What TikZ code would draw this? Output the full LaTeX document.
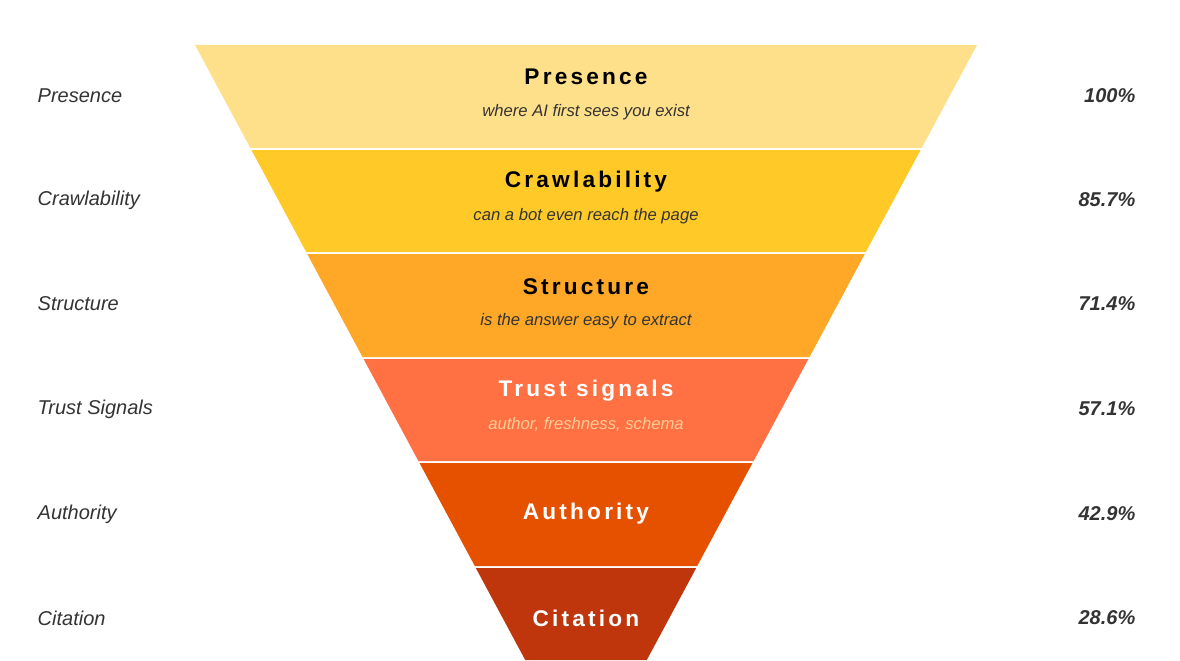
\documentclass[tikz,border=0pt]{standalone}
\usepackage{fontspec}
\setmainfont{Liberation Sans}
\newfontfamily\titlefont{Liberation Sans}[LetterSpace=14]
\definecolor{bandA}{HTML}{FFE08A}
\definecolor{bandB}{HTML}{FFCA28}
\definecolor{bandC}{HTML}{FFA726}
\definecolor{bandD}{HTML}{FF7043}
\definecolor{bandE}{HTML}{E65100}
\definecolor{bandF}{HTML}{BF360C}
\definecolor{labelgray}{HTML}{333333}
\begin{document}
\begin{tikzpicture}[x=0.75pt, y=-0.75pt,
    band/.style={draw=none},
    stage/.style={font=\titlefont\fontsize{17}{20}\selectfont\bfseries},
    hint/.style={font=\fontsize{12.5}{15}\selectfont\itshape, text=labelgray},
    side/.style={font=\fontsize{15}{18}\selectfont\itshape, text=labelgray, anchor=west},
    pct/.style={font=\fontsize{15}{18}\selectfont\bfseries\itshape, text=labelgray, anchor=east},
  ]
    \useasboundingbox (0,0) rectangle (1180,660);

    % Funnel bands
    \fill[band, bandA] (195,45) -- (977,45) -- (921.7,148) -- (250.3,148) -- cycle;
    \fill[band, bandB] (251.4,150) -- (920.6,150) -- (865.8,252) -- (306.2,252) -- cycle;
    \fill[band, bandC] (307.2,254) -- (864.8,254) -- (809.5,357) -- (362.5,357) -- cycle;
    \fill[band, bandD] (363.6,359) -- (808.4,359) -- (753.6,461) -- (418.4,461) -- cycle;
    \fill[band, bandE] (419.5,463) -- (752.5,463) -- (697.2,566) -- (474.8,566) -- cycle;
    \fill[band, bandF] (475.8,568) -- (696.2,568) -- (646.8,660) -- (525.2,660) -- cycle;

    % Stage titles
    \node[stage] (presence) at (586,77) {Presence};
    \node[hint] (presenceHint) at (586,112) {where AI first sees you exist};
    \node[stage] (crawl) at (586,182) {Crawlability};
    \node[hint] (crawlHint) at (586,216) {can a bot even reach the page};
    \node[stage] (structure) at (586,287) {Structure};
    \node[hint] (structureHint) at (586,321) {is the answer easy to extract};
    \node[stage, text=white] (trust) at (586,391) {Trust signals};
    \node[hint, text=orange!40] (trustHint) at (586,425) {author, freshness, schema};
    \node[stage, text=white] (authority) at (586,514) {Authority};
    \node[stage, text=white] (citation) at (586,618) {Citation};

    % Left labels
    \node[side] (lPresence) at (33,96) {Presence};
    \node[side] (lCrawl) at (33,200) {Crawlability};
    \node[side] (lStructure) at (33,304) {Structure};
    \node[side] (lTrust) at (33,409) {Trust Signals};
    \node[side] (lAuthority) at (33,514) {Authority};
    \node[side] (lCitation) at (33,618) {Citation};

    % Percentages
    \node[pct] (pPresence) at (1140,96) {100\%};
    \node[pct] (pCrawl) at (1140,200) {85.7\%};
    \node[pct] (pStructure) at (1140,304) {71.4\%};
    \node[pct] (pTrust) at (1140,409) {57.1\%};
    \node[pct] (pAuthority) at (1140,514) {42.9\%};
    \node[pct] (pCitation) at (1140,618) {28.6\%};
\end{tikzpicture}
\end{document}
